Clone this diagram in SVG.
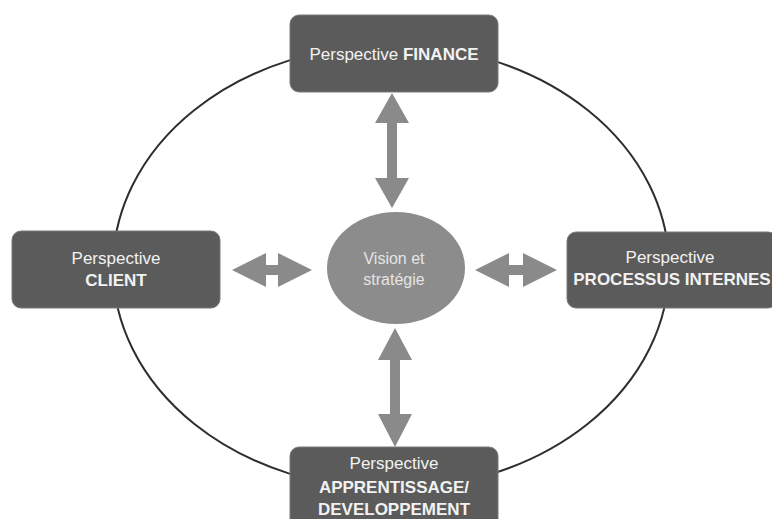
<svg xmlns="http://www.w3.org/2000/svg" width="772" height="519" viewBox="0 0 772 519">
<style>
.box{fill:#5b5b5b;stroke:#7a7a7a;stroke-width:1}
.t{font-family:"Liberation Sans",Arial,sans-serif;font-size:17px;fill:#f2f2f2;text-anchor:middle}
.b{font-weight:bold}
.arr{fill:#8a8a8a}
.ring{fill:none;stroke:#2e2e2e;stroke-width:2}
</style>
<rect width="772" height="519" fill="#ffffff"/>
<g id="connectors">
<ellipse class="ring" cx="391" cy="267" rx="278" ry="222"/>
<polygon class="arr" points="392,93 409,123 397,123 397,178 409,178 392,208 375,178 387,178 387,123 375,123"/>
<polygon class="arr" points="395,328 412,360 400,360 400,414 412,414 395,447 378,414 390,414 390,360 378,360"/>
<polygon class="arr" points="232,270 266,253 266,265 278,265 278,253 312,270 278,287 278,275 266,275 266,287"/>
<polygon class="arr" points="475,270 509,253 509,265 523,265 523,253 557,270 523,287 523,275 509,275 509,287"/>
</g>
<g id="vision">
<ellipse cx="396" cy="268" rx="69" ry="56" fill="#8c8c8c"/>
<text class="t" x="394" y="264" style="font-size:16px;fill:#e4e4e4">Vision et</text>
<text class="t" x="394" y="285" style="font-size:16px;fill:#e4e4e4">stratégie</text>
</g>
<g id="finance">
<rect class="box" x="290" y="15" width="208" height="77" rx="9"/>
<text class="t" x="394" y="60">Perspective <tspan class="b">FINANCE</tspan></text>
</g>
<g id="client">
<rect class="box" x="12" y="231" width="208" height="77" rx="9"/>
<text class="t" x="116" y="264">Perspective</text>
<text class="t b" x="116" y="286">CLIENT</text>
</g>
<g id="processus">
<rect class="box" x="567" y="232" width="210" height="76" rx="9"/>
<text class="t" x="670" y="263">Perspective</text>
<text class="t b" x="672" y="285">PROCESSUS INTERNES</text>
</g>
<g id="apprentissage">
<rect class="box" x="290" y="447" width="208" height="85" rx="9"/>
<text class="t" x="394" y="469">Perspective</text>
<text class="t b" x="394" y="493">APPRENTISSAGE/</text>
<text class="t b" x="394" y="515">DEVELOPPEMENT</text>
</g>
</svg>
